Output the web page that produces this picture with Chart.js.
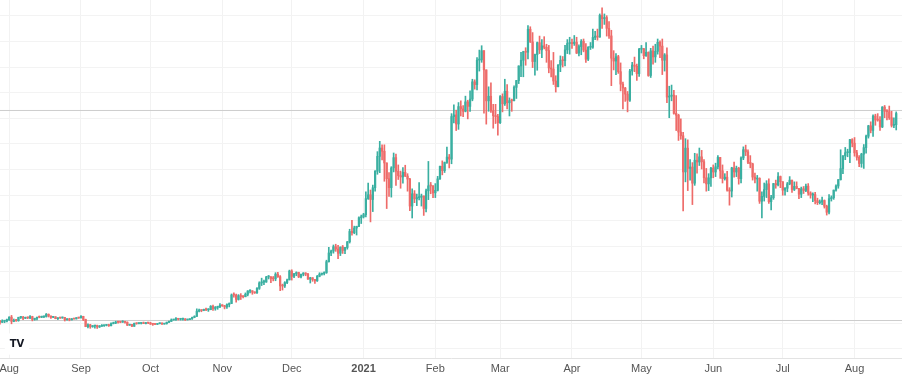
<!DOCTYPE html>
<html>
<head>
<meta charset="utf-8">
<script src="https://cdn.jsdelivr.net/npm/chart.js@4.4.1/dist/chart.umd.min.js"></script>
<style>
  html, body { margin: 0; padding: 0; background: #ffffff; }
  canvas { display: block; }
</style>
</head>
<body>
<canvas id="candles" width="902" height="376"></canvas>
<script>
"use strict";

// Daily candles from 2020-07-28 to 2021-08-19, prices in thousands
const firstOpen = 11.00;

const closes = [
    // Jul 28-31
    10.93, 11.10, 11.11, 11.35,
    // Aug 2020
    11.80, 11.07, 11.23, 11.19, 11.74, 11.77, 11.60, 11.75, 11.68, 11.88,
    11.40, 11.58, 11.78, 11.77, 11.86, 11.91, 12.29, 11.97, 11.76, 11.86,
    11.52, 11.68, 11.65, 11.75, 11.33, 11.46, 11.32, 11.53, 11.48, 11.71, 11.65,
    // Sep
    11.92, 11.40, 10.17, 10.48, 10.17, 10.28, 10.37, 10.12, 10.23, 10.34,
    10.39, 10.44, 10.32, 10.68, 10.79, 10.95, 10.94, 10.93, 11.08, 10.92,
    10.42, 10.53, 10.23, 10.74, 10.69, 10.72, 10.77, 10.69, 10.84, 10.78,
    // Oct
    10.62, 10.57, 10.55, 10.67, 10.79, 10.60, 10.67, 10.92, 11.06, 11.30,
    11.38, 11.55, 11.43, 11.43, 11.50, 11.33, 11.37, 11.51, 11.75, 11.92,
    12.82, 12.99, 12.93, 13.13, 13.04, 13.07, 13.65, 13.28, 13.46, 13.56, 13.80,
    // Nov
    13.76, 13.55, 13.95, 14.13, 15.59, 15.58, 14.83, 15.48, 15.33, 15.30,
    15.70, 16.28, 16.32, 16.07, 15.96, 16.73, 17.66, 17.80, 17.82, 18.68,
    18.71, 18.42, 18.37, 19.16, 18.72, 17.15, 17.14, 17.72, 18.18, 19.70,
    // Dec
    18.79, 19.22, 19.45, 18.70, 19.15, 19.36, 19.17, 18.32, 18.55, 18.25,
    18.03, 18.80, 19.17, 19.27, 19.44, 21.31, 22.80, 23.13, 23.87, 23.48,
    22.75, 23.82, 23.24, 23.73, 24.71, 26.49, 26.28, 27.08, 27.36, 28.84, 29.00,
    // Jan 2021
    29.37, 32.13, 32.78, 31.97, 33.99, 36.82, 39.37, 40.80, 40.25, 38.24,
    35.54, 34.01, 37.39, 39.15, 36.83, 36.07, 35.84, 36.63, 35.99, 35.47,
    30.85, 32.95, 32.08, 32.29, 32.37, 32.57, 30.43, 33.47, 34.32, 34.30, 33.11,
    // Feb
    33.54, 35.51, 37.67, 36.93, 38.32, 39.25, 38.90, 46.20, 46.48, 44.92,
    47.91, 47.50, 47.11, 48.72, 47.94, 49.20, 52.15, 51.68, 55.89, 55.92,
    57.49, 54.21, 48.89, 49.68, 47.18, 46.34, 46.19, 45.14,
    // Mar
    49.63, 48.38, 50.54, 48.56, 48.93, 48.91, 51.21, 52.38, 54.88, 55.86,
    57.33, 57.23, 61.18, 59.00, 55.64, 56.83, 58.87, 57.64, 58.33, 58.08,
    57.52, 54.53, 54.35, 52.30, 51.32, 55.03, 55.84, 55.79, 57.63, 58.73, 58.74,
    // Apr
    58.72, 58.96, 57.08, 58.20, 59.12, 57.60, 56.03, 58.08, 58.09, 59.77,
    60.00, 59.83, 63.54, 62.97, 63.18, 61.33, 60.03, 56.21, 55.72, 56.47,
    53.90, 51.76, 51.09, 50.05, 49.00, 54.02, 55.03, 54.82, 53.56, 57.75,
    // May
    57.83, 56.63, 57.21, 53.24, 57.47, 56.43, 57.38, 58.93, 58.28, 55.86,
    56.77, 49.54, 49.69, 49.87, 46.75, 46.43, 43.54, 42.90, 36.70, 40.78,
    37.30, 37.54, 34.77, 38.71, 38.40, 39.29, 38.44, 35.69, 34.65, 35.68, 37.34,
    // Jun
    36.69, 37.58, 39.19, 36.89, 35.55, 35.80, 33.59, 33.42, 37.39, 36.69,
    37.34, 35.55, 39.10, 40.52, 40.14, 38.35, 38.09, 35.82, 35.48, 35.60,
    31.68, 32.51, 33.68, 34.66, 31.59, 32.28, 34.70, 34.49, 35.91, 35.04,
    // Jul
    33.57, 33.90, 34.66, 35.29, 33.69, 34.22, 33.86, 32.88, 33.81, 33.52,
    34.26, 33.09, 32.73, 32.82, 31.78, 31.42, 31.53, 31.80, 30.82, 29.79,
    32.11, 32.29, 33.58, 34.29, 35.38, 37.27, 39.46, 40.00, 40.02, 42.24, 41.63,
    // Aug 1-19
    39.97, 39.20, 38.15, 39.75, 40.87, 42.83, 44.61, 43.83, 46.29, 45.60,
    45.58, 44.42, 47.83, 47.10, 47.04, 45.99, 44.69, 44.80, 46.72
];

const highs = [
    11.25, 11.34, 11.17, 11.45,
    11.86, 12.09, 11.47, 11.42, 11.79, 11.90, 11.92, 11.80, 11.81, 12.07,
    11.95, 11.62, 11.80, 11.99, 11.97, 11.93, 12.42, 12.34, 12.01, 11.88,
    11.88, 11.69, 11.71, 11.82, 11.77, 11.53, 11.60, 11.55, 11.58, 11.71, 11.77,
    12.07, 11.95, 11.45, 10.63, 10.57, 10.35, 10.40, 10.43, 10.35, 10.50,
    10.40, 10.48, 10.58, 10.80, 10.94, 11.10, 11.04, 11.04, 11.18, 11.08,
    10.99, 10.57, 10.55, 10.78, 10.76, 10.80, 10.80, 10.95, 10.86, 10.84,
    10.92, 10.66, 10.60, 10.68, 10.80, 10.80, 10.68, 10.95, 11.10, 11.49,
    11.44, 11.72, 11.56, 11.55, 11.63, 11.54, 11.40, 11.52, 11.80, 12.03,
    13.22, 13.19, 13.03, 13.17, 13.34, 13.25, 13.78, 13.86, 13.62, 13.68, 14.10,
    13.90, 13.82, 14.07, 14.24, 15.77, 15.96, 15.75, 15.66, 15.83, 15.46,
    15.95, 16.34, 16.48, 16.33, 16.14, 16.88, 17.86, 18.48, 18.14, 18.79,
    18.94, 18.75, 18.77, 19.42, 19.48, 18.92, 17.46, 17.88, 18.32, 19.86,
    19.92, 19.31, 19.57, 19.50, 19.17, 19.42, 19.42, 19.29, 18.63, 18.57,
    18.27, 18.95, 19.41, 19.35, 19.57, 21.56, 23.77, 23.28, 24.17, 24.30,
    24.10, 23.84, 24.09, 23.78, 24.78, 26.87, 28.42, 27.40, 27.40, 28.99, 29.30,
    29.60, 33.30, 34.80, 33.60, 34.44, 36.94, 40.18, 41.95, 41.33, 41.35,
    38.26, 36.60, 37.60, 39.95, 39.75, 37.90, 36.85, 37.45, 37.85, 36.40,
    35.60, 33.80, 33.50, 32.90, 34.88, 32.90, 32.60, 33.75, 38.50, 34.90, 34.35,
    34.70, 35.94, 37.70, 38.60, 38.40, 40.97, 39.70, 46.70, 48.20, 47.30,
    48.60, 48.90, 48.10, 49.70, 49.00, 50.60, 52.60, 52.50, 56.30, 57.60,
    58.35, 57.53, 54.20, 51.30, 52.00, 48.30, 48.30, 46.60,
    49.80, 50.10, 52.60, 51.70, 49.40, 49.20, 51.45, 52.40, 54.90, 57.20,
    57.40, 58.00, 61.80, 61.60, 60.60, 56.90, 58.98, 60.00, 59.40, 59.90,
    58.60, 58.40, 55.80, 57.20, 53.20, 55.10, 56.60, 56.50, 58.40, 59.40, 59.80,
    59.50, 60.10, 59.80, 58.50, 59.40, 59.50, 58.70, 58.20, 58.90, 61.20,
    60.80, 61.20, 63.80, 64.85, 63.80, 63.50, 62.50, 61.00, 57.50, 57.00,
    56.70, 55.40, 52.10, 51.20, 50.50, 54.30, 55.50, 56.40, 55.20, 57.90,
    58.40, 57.90, 58.90, 57.30, 57.90, 58.30, 58.60, 59.50, 59.20, 59.50,
    57.00, 58.00, 51.40, 51.60, 50.70, 49.80, 46.60, 45.80, 43.50, 42.40,
    42.20, 38.80, 38.30, 39.90, 39.80, 40.80, 40.40, 38.80, 37.30, 36.40, 37.50,
    37.90, 38.20, 39.50, 39.20, 37.90, 36.40, 36.80, 34.00, 37.50, 38.40,
    37.70, 37.50, 39.30, 41.00, 41.30, 40.50, 39.50, 38.20, 36.50, 36.10,
    35.70, 33.30, 34.80, 35.20, 35.50, 32.70, 34.75, 35.30, 36.60, 36.00,
    35.00, 34.00, 34.90, 35.90, 35.30, 35.00, 35.00, 33.90, 34.10, 34.20,
    34.60, 34.70, 33.30, 33.10, 33.20, 32.20, 31.90, 32.40, 31.90, 31.00,
    32.80, 32.60, 33.60, 34.50, 35.40, 40.50, 39.50, 40.90, 40.60, 42.30, 42.40,
    42.60, 40.40, 39.50, 39.90, 41.40, 43.00, 44.70, 45.30, 46.50, 46.60,
    46.70, 46.20, 47.90, 48.10, 47.40, 48.00, 47.10, 46.00, 47.00
];

const lows = [
    10.60, 10.86, 10.84, 10.98,
    11.23, 10.65, 11.00, 11.08, 11.09, 11.56, 11.34, 11.54, 11.53, 11.55,
    11.15, 11.26, 11.30, 11.68, 11.70, 11.70, 11.80, 11.82, 11.56, 11.70,
    11.52, 11.38, 11.56, 11.60, 11.13, 11.27, 11.16, 11.30, 11.45, 11.48, 11.58,
    11.65, 11.20, 10.15, 9.95, 9.88, 10.05, 9.90, 9.85, 10.01, 10.20,
    10.20, 10.29, 10.20, 10.27, 10.63, 10.67, 10.76, 10.83, 10.90, 10.77,
    10.35, 10.38, 10.16, 10.20, 10.57, 10.65, 10.62, 10.68, 10.65, 10.69,
    10.53, 10.38, 10.50, 10.52, 10.63, 10.54, 10.59, 10.59, 10.83, 11.05,
    11.28, 11.23, 11.30, 11.28, 11.28, 11.22, 11.30, 11.35, 11.41, 11.69,
    11.90, 12.68, 12.72, 12.89, 12.91, 12.78, 13.06, 12.94, 12.98, 13.14, 13.43,
    13.63, 13.21, 13.30, 13.55, 14.10, 15.20, 14.35, 14.72, 14.82, 15.07,
    15.28, 15.44, 15.96, 15.71, 15.86, 15.87, 16.55, 17.21, 17.37, 17.76,
    18.34, 17.70, 18.01, 18.04, 18.61, 16.33, 16.44, 16.88, 17.54, 18.18,
    18.15, 18.55, 18.90, 18.57, 18.50, 18.88, 18.90, 18.25, 17.65, 17.94,
    17.57, 17.92, 18.71, 19.00, 19.05, 19.30, 21.23, 22.35, 22.77, 23.08,
    21.82, 22.35, 22.72, 22.70, 23.45, 24.50, 25.84, 26.10, 25.88, 27.32, 27.85,
    28.80, 29.00, 32.00, 28.13, 29.90, 33.40, 36.30, 36.57, 38.74, 35.10,
    30.42, 32.51, 32.38, 36.70, 34.40, 35.40, 33.90, 34.78, 35.90, 33.40,
    30.07, 28.80, 31.43, 30.92, 31.90, 30.85, 29.24, 29.85, 31.95, 32.95, 32.30,
    32.30, 33.43, 35.40, 36.20, 36.60, 38.15, 37.38, 38.10, 45.10, 43.80,
    44.00, 46.30, 46.20, 47.00, 45.80, 47.10, 48.90, 50.90, 50.75, 54.00,
    55.50, 46.80, 44.90, 47.10, 46.90, 44.20, 45.00, 43.00,
    45.00, 47.00, 48.10, 47.50, 46.30, 47.10, 48.90, 49.30, 51.85, 53.05,
    53.02, 55.00, 56.08, 58.90, 54.60, 53.30, 54.14, 57.00, 56.30, 57.80,
    55.50, 53.70, 53.00, 51.70, 50.40, 51.30, 53.90, 54.70, 54.90, 57.00, 56.90,
    57.90, 58.40, 57.00, 56.60, 56.80, 57.30, 55.50, 55.80, 57.70, 57.90,
    59.40, 59.30, 59.80, 61.30, 62.00, 60.00, 59.60, 51.50, 54.20, 53.40,
    53.60, 50.60, 47.50, 48.80, 47.00, 48.80, 53.30, 53.90, 52.40, 53.10,
    57.10, 56.10, 56.50, 53.10, 52.90, 55.20, 55.50, 56.90, 56.30, 53.40,
    54.00, 48.60, 46.00, 48.90, 46.60, 43.80, 42.10, 42.30, 30.00, 35.00,
    33.50, 35.30, 31.10, 34.40, 36.50, 37.80, 37.20, 34.80, 33.40, 33.50, 34.20,
    35.70, 35.90, 37.20, 35.60, 34.80, 35.30, 33.40, 31.00, 32.40, 35.80,
    35.90, 34.60, 34.80, 38.80, 39.50, 38.10, 37.40, 35.30, 34.80, 33.40,
    31.30, 28.80, 31.70, 32.30, 31.30, 30.20, 32.00, 33.90, 34.30, 34.00,
    32.70, 32.70, 33.30, 34.50, 33.20, 33.50, 33.80, 32.10, 32.30, 33.00,
    33.30, 32.70, 32.20, 31.60, 31.20, 31.10, 31.20, 31.10, 30.50, 29.30,
    29.50, 31.70, 32.00, 33.40, 33.90, 35.30, 36.40, 38.80, 39.30, 38.30, 41.00,
    39.40, 38.70, 37.60, 37.50, 37.30, 39.90, 42.50, 43.40, 42.80, 44.70,
    45.40, 43.80, 44.30, 46.00, 45.60, 45.70, 44.40, 44.30, 43.90
];

// each daily candle opens where the previous one closed
const opens = [firstOpen].concat(closes.slice(0, -1));

// x axis: month labels and the candle index of each month's first day
const monthLabels = ['Aug', 'Sep', 'Oct', 'Nov', 'Dec', '2021', 'Feb', 'Mar', 'Apr', 'May', 'Jun', 'Jul', 'Aug'];
const monthStarts = [4, 35, 65, 96, 126, 157, 188, 216, 247, 277, 308, 338, 369];

// horizontal levels drawn across the chart
const levels = [47.24, 11.22];

const UP = '#3aafa1';
const DOWN = '#ee6b69';

const candleColor = (ctx) => {
    const i = ctx.dataIndex;
    return closes[i] >= opens[i] ? UP : DOWN;
};

const wickData = closes.map((c, i) => ({ x: i, y: [lows[i], highs[i]] }));
const bodyData = closes.map((c, i) => ({ x: i, y: [opens[i], c] }));

const xMin = 0.03, xMax = 389.5;

const levelDatasets = levels.map(v => ({
    type: 'line',
    data: [{ x: xMin, y: v }, { x: xMax, y: v }],
    borderColor: '#cdcdcd',
    borderWidth: 1,
    pointRadius: 0,
    order: 5
}));

const logoPlugin = {
    id: 'logo',
    afterDraw(chart) {
        const c = chart.ctx;
        c.save();
        c.fillStyle = '#ffffff';
        c.beginPath();
        c.arc(17, 344, 13, 0, Math.PI * 2);
        c.fill();
        c.fillStyle = '#131722';
        c.font = 'bold 10px "DejaVu Sans"';
        c.textAlign = 'center';
        c.textBaseline = 'middle';
        c.fillText('TV', 17, 344);
        c.restore();
    }
};

new Chart(document.getElementById('candles'), {
    type: 'bar',
    data: {
        datasets: [
            {
                label: 'wick',
                data: wickData,
                backgroundColor: candleColor,
                barThickness: 1,
                grouped: false,
                order: 2
            },
            {
                label: 'body',
                data: bodyData,
                backgroundColor: candleColor,
                barThickness: 1.6,
                minBarLength: 1,
                grouped: false,
                order: 1
            }
        ].concat(levelDatasets)
    },
    options: {
        responsive: false,
        animation: false,
        devicePixelRatio: 1,
        layout: { padding: 0 },
        plugins: {
            legend: { display: false },
            tooltip: { enabled: false }
        },
        scales: {
            x: {
                type: 'linear',
                min: xMin,
                max: xMax,
                offset: false,
                afterBuildTicks: (scale) => {
                    scale.ticks = monthStarts.map(v => ({ value: v }));
                },
                afterFit: (scale) => {
                    scale.height = 18;
                    scale.paddingLeft = 0;
                    scale.paddingRight = 0;
                },
                grid: { color: '#f2f2f2', drawTicks: false, offset: false },
                border: { display: true, color: '#e3e3e3' },
                ticks: {
                    autoSkip: false,
                    maxRotation: 0,
                    padding: 4,
                    color: '#555555',
                    font: (ctx) => ({
                        family: '"Liberation Sans", Arial, sans-serif',
                        size: 11,
                        weight: (ctx.index === 5) ? 'bold' : 'normal'
                    }),
                    callback: (value, index) => monthLabels[index]
                }
            },
            y: {
                min: 4.786,
                max: 66.19,
                afterBuildTicks: (scale) => {
                    const ticks = [];
                    for (let v = 63.45; v > scale.min; v -= 4.39) {
                        ticks.push({ value: v });
                    }
                    scale.ticks = ticks;
                },
                afterFit: (scale) => { scale.width = 0; },
                grid: { color: '#f3f3f3', drawTicks: false },
                border: { display: false },
                ticks: { display: false }
            }
        }
    },
    plugins: [logoPlugin]
});
</script>
</body>
</html>
